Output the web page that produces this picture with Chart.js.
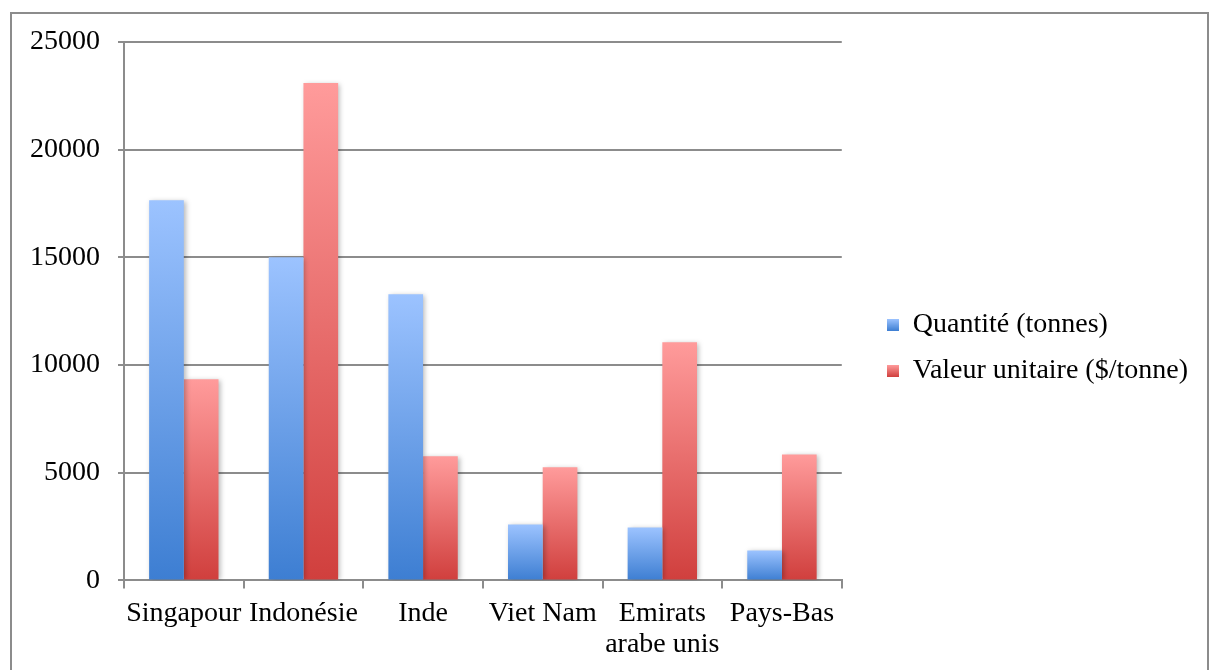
<!DOCTYPE html>
<html>
<head>
<meta charset="utf-8">
<script src="https://cdn.jsdelivr.net/npm/chart.js@4"></script>
<style>
  html, body { margin: 0; padding: 0; background: #fff; }
  #wrap { position: relative; width: 1209px; height: 670px; overflow: hidden; }
  #frame { position: absolute; left: 10px; top: 12px; width: 1195px; height: 700px; border: 2px solid #8c8c8c; }
  canvas { position: absolute; left: 0; top: 0; }
</style>
</head>
<body>
<div id="wrap">
  <div id="frame"></div>
  <canvas id="myChart" width="1209" height="670"></canvas>
</div>
<script>
// Catégories et valeurs
var pays = ['Singapour', 'Indonésie', 'Inde', 'Viet Nam', ['Emirats', 'arabe unis'], 'Pays-Bas'];
var quantite = [17650, 15000, 13290, 2600, 2460, 1390];
var valeurUnitaire = [9340, 23100, 5760, 5250, 11060, 5850];
var yTicks = [0, 5000, 10000, 15000, 20000, 25000];

var gris = '#8c8c8c';
var police = '"Liberation Serif", "DejaVu Serif", serif';

// dégradé vertical propre à chaque barre (clair en haut, foncé en bas)
function degrade(haut, bas, milieu) {
  return function (c) {
    var y = c.chart.scales.y;
    if (!y || c.raw === undefined) return milieu;
    var y0 = y.getPixelForValue(c.raw);
    var y1 = y.getPixelForValue(0);
    if (!isFinite(y0) || !isFinite(y1) || y0 === y1) return milieu;
    var g = c.chart.ctx.createLinearGradient(0, y0, 0, y1);
    g.addColorStop(0, haut);
    g.addColorStop(1, bas);
    return g;
  };
}

// petit carré en dégradé pour la légende
function carre(haut, bas) {
  var cv = document.createElement('canvas');
  cv.width = 12;
  cv.height = 12;
  var c = cv.getContext('2d');
  var g = c.createLinearGradient(0, 0, 0, 12);
  g.addColorStop(0, haut);
  g.addColorStop(1, bas);
  c.fillStyle = g;
  c.fillRect(0, 0, 12, 12);
  return cv;
}

// petite ombre portée sous les barres
var ombre = {
  id: 'ombre',
  beforeDatasetsDraw: function (chart) {
    var ctx = chart.ctx;
    ctx.save();
    ctx.shadowColor = 'rgba(0,0,0,0.28)';
    ctx.shadowBlur = 5;
    ctx.shadowOffsetX = 2;
    ctx.shadowOffsetY = 1;
  },
  afterDatasetsDraw: function (chart) {
    chart.ctx.restore();
  }
};

// remonte un peu la légende
var legendeHaut = {
  id: 'legendeHaut',
  afterLayout: function (chart) {
    if (chart.legend) {
      chart.legend.top -= 8;
      chart.legend.bottom -= 8;
    }
  }
};

var ctx = document.getElementById('myChart').getContext('2d');
var myChart = new Chart(ctx, {
  type: 'bar',
  data: {
    labels: pays,
    datasets: [{
      label: 'Quantité (tonnes)',
      data: quantite,
      backgroundColor: degrade('#9cc3ff', '#3d7ed2', '#6a9fe8'),
      pointStyle: carre('#9cc3ff', '#3d7ed2'),
      borderWidth: 0
    }, {
      label: 'Valeur unitaire ($/tonne)',
      data: valeurUnitaire,
      backgroundColor: degrade('#ff9b9b', '#d03f3d', '#e86a6a'),
      pointStyle: carre('#ff9b9b', '#d03f3d'),
      borderWidth: 0
    }]
  },
  options: {
    responsive: false,
    animation: false,
    devicePixelRatio: 1,
    categoryPercentage: 0.58,
    barPercentage: 1.0,
    layout: { padding: { left: 12, right: 11, top: 42, bottom: 0 } },
    plugins: {
      tooltip: { enabled: false },
      legend: {
        display: true,
        position: 'right',
        maxWidth: 360,
        labels: {
          color: '#000',
          font: { family: police, size: 28 },
          usePointStyle: true,
          boxWidth: 12,
          boxHeight: 12,
          padding: 18
        }
      }
    },
    scales: {
      x: {
        grid: { display: true, drawOnChartArea: false, drawTicks: true, tickLength: 8, color: gris, lineWidth: 2, offset: true },
        border: { color: gris, width: 2 },
        ticks: { color: '#000', font: { family: police, size: 28, lineHeight: 1.1 }, maxRotation: 0, autoSkip: false, padding: 10 }
      },
      y: {
        min: 0,
        max: 25000,
        afterBuildTicks: function (axis) {
          axis.ticks = yTicks.map(function (v) { return { value: v }; });
        },
        grid: { color: gris, lineWidth: 2, tickLength: 6 },
        border: { color: gris, width: 2 },
        ticks: { color: '#000', font: { family: police, size: 28 }, padding: 18, callback: function (v) { return String(v); } }
      },
      // axe vide à droite : écart entre le graphique et la légende
      marge: {
        position: 'right',
        display: true,
        grid: { display: false },
        border: { display: false },
        ticks: { display: false },
        afterFit: function (axis) { axis.width = 27; }
      }
    }
  },
  plugins: [ombre, legendeHaut]
});
</script>
</body>
</html>
